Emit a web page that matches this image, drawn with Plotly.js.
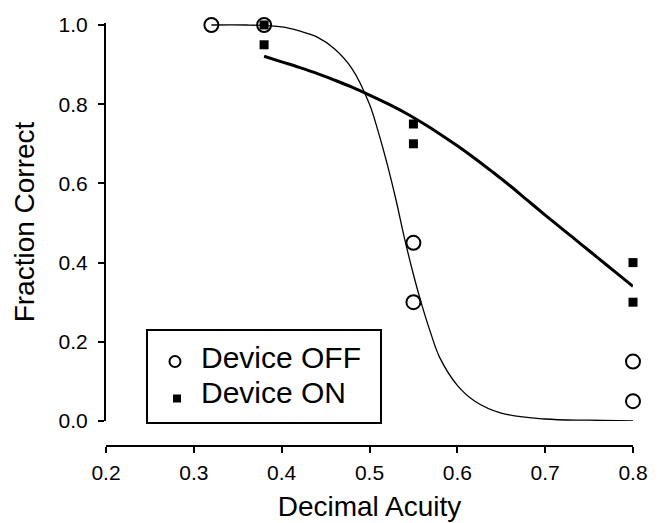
<!DOCTYPE html>
<html>
<head>
<meta charset="utf-8">
<script src="https://cdn.plot.ly/plotly-3.0.1.min.js"></script>
<style>html,body{margin:0;padding:0;background:#fff}#chart{width:665px;height:523px}</style>
</head>
<body>
<div id="chart"></div>
<script>
// Observed data points
const offX = [0.32, 0.38, 0.55, 0.55, 0.80, 0.80];
const offY = [1.00, 1.00, 0.45, 0.30, 0.15, 0.05];
const onX  = [0.38, 0.38, 0.55, 0.55, 0.80, 0.80];
const onY  = [1.00, 0.95, 0.75, 0.70, 0.40, 0.30];

// Fitted curves
const offFitX = [0.32, 0.36, 0.40, 0.42, 0.44, 0.46, 0.48, 0.50, 0.51, 0.52, 0.53, 0.54, 0.55, 0.56, 0.57, 0.58, 0.60, 0.62, 0.65, 0.70, 0.75, 0.80];
const offFitY = [1.00, 1.00, 0.995, 0.985, 0.97, 0.94, 0.89, 0.80, 0.73, 0.65, 0.56, 0.46, 0.37, 0.29, 0.22, 0.16, 0.09, 0.05, 0.02, 0.005, 0.002, 0.0];
const onFitX  = [0.38, 0.40, 0.42, 0.44, 0.46, 0.48, 0.50, 0.52, 0.54, 0.56, 0.58, 0.60, 0.62, 0.64, 0.66, 0.68, 0.70, 0.72, 0.74, 0.76, 0.78, 0.80];
const onFitY  = [0.921, 0.907, 0.893, 0.878, 0.861, 0.843, 0.823, 0.802, 0.779, 0.753, 0.725, 0.695, 0.663, 0.629, 0.594, 0.557, 0.520, 0.484, 0.448, 0.412, 0.376, 0.340];

const xTicks = [0.2, 0.3, 0.4, 0.5, 0.6, 0.7, 0.8];
const yTicks = [0.0, 0.2, 0.4, 0.6, 0.8, 1.0];
const legendLabels = ['Device OFF', 'Device ON'];

const FONT = 'Liberation Sans, Arial, Helvetica, sans-serif';

const traces = [
  {x: offFitX, y: offFitY, mode: 'lines', line: {color: '#000', width: 1.3, shape: 'spline'}, showlegend: false, hoverinfo: 'skip'},
  {x: onFitX, y: onFitY, mode: 'lines', line: {color: '#000', width: 3, shape: 'spline'}, showlegend: false, hoverinfo: 'skip'},
  {x: offX, y: offY, mode: 'markers', name: legendLabels[0], cliponaxis: false, showlegend: false,
   marker: {symbol: 'circle-open', size: 14, color: '#000', line: {color: '#000', width: 2}}},
  {x: onX, y: onY, mode: 'markers', name: legendLabels[1], cliponaxis: false, showlegend: false,
   marker: {symbol: 'square', size: 9, color: '#000', line: {width: 0}}}
];

const layout = {
  width: 665, height: 523,
  margin: {l: 106, r: 32, t: 23, b: 77},
  paper_bgcolor: '#fff', plot_bgcolor: '#fff',
  font: {family: FONT, color: '#000'},
  showlegend: false,
  xaxis: {
    range: [0.2, 0.8], tickvals: xTicks, tickformat: '.1f',
    anchor: 'free', position: 0,
    showgrid: false, zeroline: false, showline: true, linecolor: '#000', linewidth: 2,
    ticks: 'outside', ticklen: 6, tickwidth: 2, tickcolor: '#000',
    tickfont: {size: 21, family: FONT}, ticklabelstandoff: 2,
    title: {text: 'Decimal Acuity', font: {size: 28, family: FONT}, standoff: 12}
  },
  yaxis: {
    range: [0, 1.005], domain: [0.0591, 1], tickvals: yTicks, tickformat: '.1f',
    showgrid: false, zeroline: false, showline: true, linecolor: '#000', linewidth: 2,
    ticks: 'outside', ticklen: 6, tickwidth: 2, tickcolor: '#000',
    tickfont: {size: 21, family: FONT}, ticklabelstandoff: 6,
    title: {text: 'Fraction Correct', font: {size: 28, family: FONT}, standoff: 16}
  },
  shapes: [
    {type: 'rect', xref: 'paper', yref: 'paper', x0: 0.0778, x1: 0.5218, y0: 0.0544, y1: 0.2742,
     line: {color: '#000', width: 2}, fillcolor: '#fff', layer: 'above'},
    {type: 'circle', xref: 'paper', yref: 'paper', xsizemode: 'pixel', ysizemode: 'pixel',
     xanchor: 0.1309, yanchor: 0.1998, x0: -5.5, x1: 5.5, y0: -5.5, y1: 5.5,
     line: {color: '#000', width: 2}, fillcolor: 'rgba(0,0,0,0)', layer: 'above'},
    {type: 'rect', xref: 'paper', yref: 'paper', xsizemode: 'pixel', ysizemode: 'pixel',
     xanchor: 0.1347, yanchor: 0.1123, x0: -4, x1: 4, y0: -4, y1: 4,
     line: {width: 0}, fillcolor: '#000', layer: 'above'}
  ],
  annotations: [
    {text: legendLabels[0], xref: 'paper', yref: 'paper', x: 0.1765, y: 0.2092, xanchor: 'left', yanchor: 'middle',
     showarrow: false, font: {size: 30, family: FONT, color: '#000'}},
    {text: legendLabels[1], xref: 'paper', yref: 'paper', x: 0.1765, y: 0.1265, xanchor: 'left', yanchor: 'middle',
     showarrow: false, font: {size: 30, family: FONT, color: '#000'}}
  ]
};

Plotly.newPlot('chart', traces, layout, {displayModeBar: false, staticPlot: true});
</script>
</body>
</html>
